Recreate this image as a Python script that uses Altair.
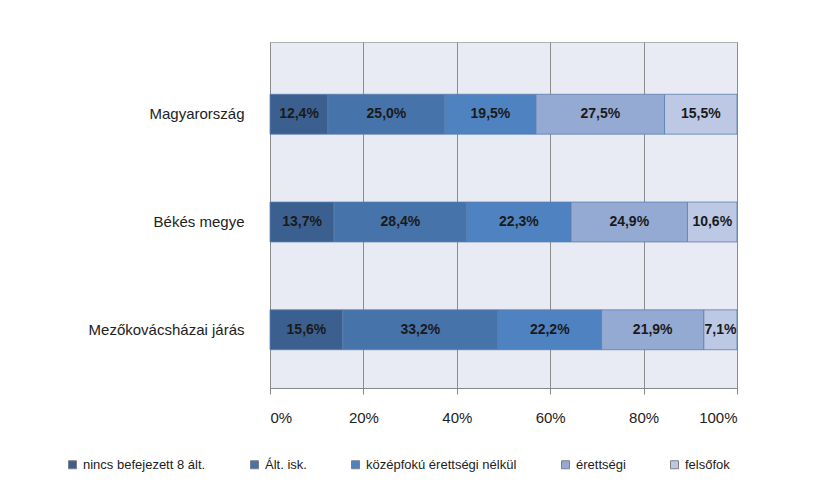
import altair as alt
import pandas as pd

regions = ["Magyarország", "Békés megye", "Mezőkovácsházai járás"]
levels = ["nincs befejezett 8 ált.", "Ált. isk.", "középfokú érettségi nélkül", "érettségi", "felsőfok"]
magyarorszag = [12.4, 25.0, 19.5, 27.5, 15.5]
bekes = [13.7, 28.4, 22.3, 24.9, 10.6]
mezokovacshaza = [15.6, 33.2, 22.2, 21.9, 7.1]
colors = ["#3B6090", "#4673A9", "#4F82C0", "#95AAD3", "#BCC8E4"]

rows = []
for reg, vals in zip(regions, [magyarorszag, bekes, mezokovacshaza]):
    for i, (lev, v) in enumerate(zip(levels, vals)):
        rows.append({"region": reg, "level": lev, "value": v, "ord": i})
df = pd.DataFrame(rows)

FONT = "Liberation Sans"

base = alt.Chart(df).encode(
    y=alt.Y("region:N", sort=regions, title=None,
            scale=alt.Scale(paddingInner=0.63, paddingOuter=0.42),
            axis=alt.Axis(labelFontSize=15, labelColor="#222222", labelFont=FONT,
                          labelPadding=26, ticks=False, domain=False, labelOffset=7)),
)

bars = base.mark_bar(stroke="#5A7FAF", strokeWidth=0.8, yOffset=7).encode(
    x=alt.X("value:Q", stack="normalize", title=None,
            scale=alt.Scale(domain=[0, 1], nice=False),
            axis=alt.Axis(format=".0%", values=[0, 0.2, 0.4, 0.6, 0.8, 1.0],
                          labelFontSize=15, labelColor="#222222", labelFont=FONT,
                          labelPadding=16, tickColor="#888888", tickSize=6,
                          domainColor="#888888", gridColor="#8c8c8c", gridWidth=1)),
    color=alt.Color("level:N", sort=levels,
                    scale=alt.Scale(domain=levels, range=colors),
                    legend=alt.Legend(orient="none", direction="horizontal",
                                      legendX=-204, legendY=416, title=None,
                                      symbolType="square", symbolSize=64,
                                      symbolStrokeColor="#7f7f7f", symbolStrokeWidth=1,
                                      labelFontSize=13, labelFont=FONT, labelColor="#222222",
                                      columnPadding=42, labelLimit=300)),
    order=alt.Order("ord:Q"),
)

labels = base.mark_text(fontSize=14, fontWeight="bold", font=FONT, color="#1a1a1a", yOffset=7).encode(
    x=alt.X("value:Q", stack="normalize", bandPosition=0.5),
    text=alt.Text("lbl:N"),
    order=alt.Order("ord:Q"),
).transform_calculate(
    lbl="replace(format(datum.value, '.1f'), '.', ',') + '%'"
)

chart = alt.layer(bars, labels).properties(
    width=467, height=346,
    autosize=alt.AutoSizeParams(type="none"),
    padding={"left": 262, "top": 34, "right": 68, "bottom": 97},
    background="white",
).configure_view(
    fill="#E8EBF4", stroke="#B0B0B0", strokeWidth=1
)

chart.save("out.html", embed_options={"renderer": "svg", "actions": False})
